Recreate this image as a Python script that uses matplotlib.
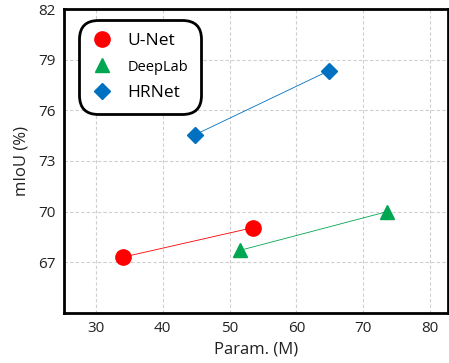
import matplotlib
matplotlib.use("Agg")
import matplotlib.pyplot as plt

plt.rcParams['font.family'] = ['Open Sans', 'DejaVu Sans']

models = ["U-Net", "DeepLab", "HRNet"]
params = {"U-Net": [34.0, 53.5], "DeepLab": [51.5, 73.6], "HRNet": [44.8, 64.9]}
miou = {"U-Net": [67.3, 69.05], "DeepLab": [67.7, 70.0], "HRNet": [74.55, 78.35]}
colors = {"U-Net": "#FF0000", "DeepLab": "#00A651", "HRNet": "#0070C0"}
markers = {"U-Net": "o", "DeepLab": "^", "HRNet": "D"}
msizes = {"U-Net": 11, "DeepLab": 10, "HRNet": 8}
xticks = [30, 40, 50, 60, 70, 80]
yticks = [67, 70, 73, 76, 79, 82]

fig = plt.figure(figsize=(4.49, 3.63), dpi=100)
ax = fig.add_axes([0.1425, 0.138, 0.855, 0.837])

for m in models:
    ax.plot(params[m], miou[m], color=colors[m], lw=0.6, zorder=2)
    ax.plot(params[m], miou[m], linestyle='none', marker=markers[m], color=colors[m],
            markersize=msizes[m], label=m, zorder=3)

ax.set_xlim(25.2, 82.7)
ax.set_ylim(64, 82)
ax.set_xticks(xticks)
ax.set_yticks(yticks)
ax.grid(True, linestyle=(0, (3, 2)), color='#cfcfcf', lw=0.8)
ax.set_axisbelow(True)
for s in ax.spines.values():
    s.set_linewidth(2)
ax.tick_params(length=0, labelsize=11, colors='#222222', pad=6)
ax.set_xlabel("Param. (M)", fontsize=12, color='#222222', labelpad=4)
ax.set_ylabel("mIoU (%)", fontsize=12, color='#222222', labelpad=6)

leg = ax.legend(loc='upper left', bbox_to_anchor=(0.039, 0.964), borderaxespad=0,
                fontsize=12.5, frameon=True, fancybox=True, borderpad=0.75,
                labelspacing=0.55, handletextpad=0.85, handlelength=1.2, framealpha=1)
fr = leg.get_frame()
fr.set_edgecolor('black')
fr.set_linewidth(2)
fr.set_boxstyle('round,pad=0.0,rounding_size=1.1')
texts = leg.get_texts()
texts[1].set_fontsize(10.5)

fig.savefig("out.png", dpi=100)
